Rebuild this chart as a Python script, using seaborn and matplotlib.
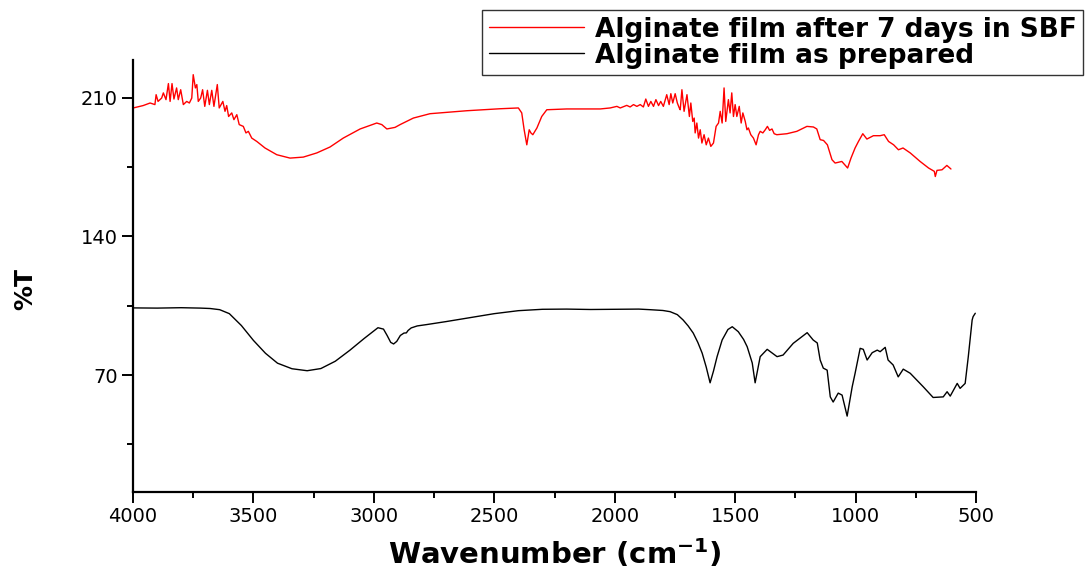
import matplotlib
matplotlib.use("Agg")
import matplotlib.pyplot as plt
import seaborn as sns
import pandas as pd

# ---------------- data ----------------
red_label = "Alginate film after 7 days in SBF"
black_label = "Alginate film as prepared"

red_wn = [3999, 3958, 3929, 3909, 3904, 3896, 3881, 3874, 3863, 3853, 3846, 3838, 3830, 3819, 3812, 3802,
          3791, 3777, 3766, 3756, 3750, 3741, 3735, 3729, 3719, 3711, 3702, 3691, 3683, 3673, 3664, 3650,
          3642, 3627, 3618, 3611, 3603, 3590, 3581, 3569, 3559, 3542, 3531, 3521, 3507, 3486, 3452, 3403,
          3348, 3293, 3237, 3182, 3127, 3057, 2988, 2967, 2946, 2912, 2891, 2850, 2836, 2767, 2614, 2476,
          2400, 2386, 2376, 2365, 2355, 2348, 2340, 2323, 2303, 2282, 2199, 2060, 2019, 1991, 1977, 1950,
          1936, 1922, 1908, 1894, 1881, 1871, 1860, 1850, 1839, 1829, 1818, 1809, 1798, 1784, 1774, 1767,
          1759, 1749, 1740, 1732, 1728, 1721, 1712, 1700, 1690, 1684, 1676, 1670, 1666, 1659, 1652, 1645,
          1638, 1629, 1620, 1611, 1601, 1590, 1579, 1569, 1562, 1554, 1546, 1539, 1528, 1521, 1514, 1507,
          1500, 1493, 1483, 1475, 1468, 1458, 1451, 1445, 1435, 1424, 1413, 1403, 1396, 1385, 1375, 1366,
          1357, 1347, 1338, 1327, 1285, 1244, 1202, 1175, 1161, 1147, 1133, 1117, 1098, 1085, 1057, 1033,
          1019, 1002, 988, 970, 953, 926, 898, 881, 863, 842, 822, 803, 773, 732, 697, 673,
          669, 662, 641, 621, 604]
red_T = [204.8, 206.0, 207.3, 206.5, 211.5, 208.1, 209.8, 212.4, 209.0, 217.1, 208.1, 217.1, 209.3, 214.9, 209.0, 214.0,
         206.5, 208.1, 207.3, 209.8, 221.6, 214.9, 216.6, 208.1, 209.8, 214.0, 205.6, 213.7, 206.5, 213.7, 205.6, 216.6,
         204.8, 208.1, 203.1, 206.0, 200.5, 202.3, 198.9, 201.4, 196.4, 195.5, 192.2, 193.0, 189.6, 187.9, 184.6, 181.2,
         179.5, 180.0, 182.1, 185.1, 189.6, 194.2, 197.2, 196.4, 194.2, 195.0, 196.4, 198.9, 199.7, 201.9, 203.4, 204.4,
         204.8, 202.3, 193.8, 186.2, 193.8, 192.2, 191.3, 194.7, 200.5, 203.9, 204.3, 204.3, 204.8, 205.6, 204.8, 206.1,
         205.3, 206.5, 205.6, 206.5, 205.3, 209.3, 205.6, 208.1, 205.6, 209.0, 206.0, 208.1, 205.6, 211.5, 206.5, 212.0,
         207.3, 212.0, 207.3, 204.8, 203.9, 214.0, 203.1, 211.5, 200.5, 207.3, 198.0, 199.7, 192.2, 197.2, 189.6, 193.8,
         187.1, 191.3, 186.2, 189.6, 185.4, 187.1, 195.5, 197.2, 203.1, 197.2, 214.9, 198.0, 209.0, 202.3, 212.4, 200.5,
         206.5, 200.5, 205.6, 197.2, 202.3, 198.0, 193.8, 194.7, 191.3, 189.6, 186.2, 191.3, 193.0, 192.2, 193.8, 195.5,
         193.5, 194.2, 191.8, 191.3, 191.8, 193.0, 195.5, 195.2, 194.2, 188.8, 188.4, 186.2, 178.7, 177.0, 177.8, 174.5,
         179.5, 184.6, 187.9, 191.8, 189.1, 190.8, 190.8, 191.3, 187.9, 186.2, 183.7, 184.6, 182.1, 177.8, 174.5, 172.8,
         170.2, 173.3, 173.6, 175.8, 174.0]

black_wn = [4000, 3900, 3800, 3720, 3680, 3640, 3600, 3550, 3500, 3450, 3400, 3340, 3277, 3220, 3160, 3100,
            3040, 2983, 2960, 2945, 2930, 2918, 2905, 2890, 2875, 2865, 2858, 2845, 2820, 2780, 2700, 2600,
            2500, 2400, 2300, 2200, 2100, 2000, 1900, 1853, 1800, 1770, 1740, 1716, 1695, 1674, 1655, 1637,
            1620, 1604, 1590, 1575, 1554, 1530, 1512, 1487, 1465, 1450, 1429, 1417, 1396, 1367, 1326, 1301,
            1259, 1201, 1176, 1159, 1147, 1134, 1118, 1105, 1093, 1072, 1056, 1035, 1014, 1002, 981, 968,
            952, 931, 910, 898, 877, 865, 844, 823, 802, 773, 719, 678, 636, 620, 607, 578,
            566, 545, 532, 516, 512, 503]
black_T = [103.9, 103.8, 104.0, 103.8, 103.6, 103.0, 101.0, 95.0, 87.5, 81.0, 76.0, 73.2, 72.2, 73.3, 77.0, 82.5,
           88.5, 93.9, 93.2, 90.0, 86.5, 85.7, 87.0, 90.0, 91.2, 91.3, 92.5, 93.8, 94.8, 95.5, 97.0, 99.0,
           101.0, 102.5, 103.2, 103.3, 103.1, 103.2, 103.3, 103.0, 102.6, 102.0, 100.5, 97.8, 94.8, 91.2, 86.5, 81.1,
           74.0, 66.1, 72.0, 79.3, 87.7, 93.0, 94.4, 91.9, 88.0, 84.3, 76.1, 66.1, 79.3, 83.0, 79.3, 80.1,
           86.0, 91.4, 87.7, 86.2, 77.6, 73.5, 72.5, 59.0, 56.4, 60.9, 59.9, 49.3, 64.1, 70.9, 83.5, 83.0,
           77.6, 81.3, 82.6, 81.8, 84.0, 77.6, 75.1, 69.1, 73.0, 70.9, 64.1, 58.7, 59.0, 61.6, 59.4, 65.8,
           63.3, 65.8, 79.3, 97.8, 99.5, 101.2]

x_ticks = [4000, 3500, 3000, 2500, 2000, 1500, 1000, 500]
y_ticks = [70, 140, 210]

# ---------------- plot ----------------
sns.set_style("ticks")
plt.rcParams["font.family"] = ["DejaVu Sans"]
plt.rcParams["mathtext.default"] = "bf"
plt.rcParams["text.color"] = "black"
plt.rcParams["axes.labelcolor"] = "black"
plt.rcParams["xtick.color"] = "black"
plt.rcParams["ytick.color"] = "black"

df_red = pd.DataFrame({"wn": red_wn, "T": red_T})
df_black = pd.DataFrame({"wn": black_wn, "T": black_T})

fig = plt.figure(figsize=(10.88, 5.69), dpi=100)
ax = fig.add_axes([133 / 1088, 1 - 492 / 569, (976 - 133) / 1088, (492 - 60) / 569])

sns.lineplot(data=df_red, x="wn", y="T", ax=ax, color="#ff0000", linewidth=1.0,
             sort=False, estimator=None, label=red_label)
sns.lineplot(data=df_black, x="wn", y="T", ax=ax, color="black", linewidth=1.0,
             sort=False, estimator=None, label=black_label)

ax.set_xlim(4000, 500)
ax.set_ylim(11, 229)
ax.set_xticks(x_ticks)
ax.set_xticks([3750, 3250, 2750, 2250, 1750, 1250, 750], minor=True)
ax.set_yticks(y_ticks)
ax.set_yticks([35, 105, 175], minor=True)
ax.set_xticklabels([str(v) for v in x_ticks])
ax.set_yticklabels([str(v) for v in y_ticks])

for s in ["top", "right"]:
    ax.spines[s].set_visible(False)
for s in ["left", "bottom"]:
    ax.spines[s].set_linewidth(1.6)
    ax.spines[s].set_color("black")

ax.tick_params(axis="both", which="major", direction="out", length=8, width=1.4,
               labelsize=14, pad=3, colors="black", labelcolor="black")
ax.tick_params(axis="both", which="minor", direction="out", length=4.5, width=1.4, colors="black")

ax.set_xlabel(r"Wavenumber (cm$^{-1}$)", fontsize=21, fontweight="bold", labelpad=8, color="black")
ax.set_ylabel("%T", fontsize=18, fontweight="bold", color="black")
ax.yaxis.set_label_coords(-0.113, 0.47)

leg = ax.legend(loc="upper right", bbox_to_anchor=(1083 / 1088, 1 - 10 / 569),
                bbox_transform=fig.transFigure, borderaxespad=0, frameon=True,
                fancybox=False, prop={"weight": "bold", "size": 19},
                handlelength=3.6, handletextpad=0.4, labelspacing=0.0, borderpad=0.25)
leg.get_frame().set_edgecolor("black")
leg.get_frame().set_linewidth(1.0)
for t in leg.get_texts():
    t.set_color("black")
for line in leg.get_lines():
    line.set_linewidth(1.0)

fig.savefig("out.png", dpi=100)
